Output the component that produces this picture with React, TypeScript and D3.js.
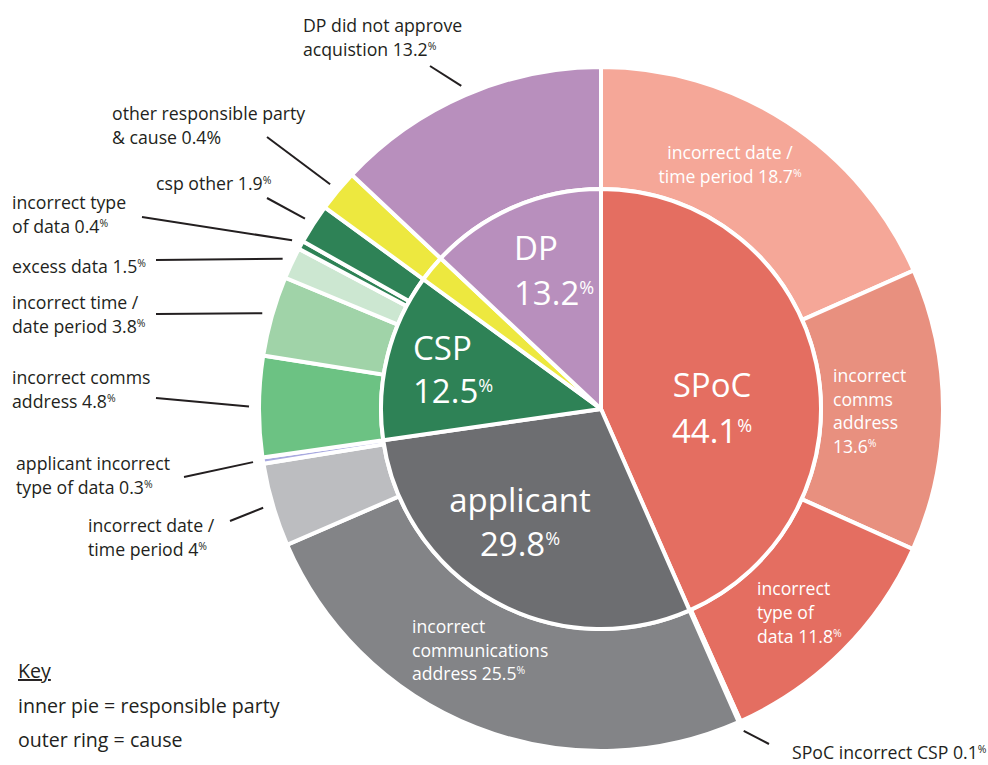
import React from "react";
import * as d3 from "d3";

// ---------- data ----------
const parties = ["SPoC", "applicant", "CSP", "other", "DP"];
const partyShares = [44.1, 29.8, 12.5, 0.4, 13.2];

const causeParty = [
  "SPoC", "SPoC", "SPoC", "SPoC",
  "applicant", "applicant", "applicant",
  "CSP", "CSP", "CSP", "CSP", "CSP",
  "other",
  "DP",
];
const causeNames = [
  "incorrect date / time period",
  "incorrect comms address",
  "incorrect type of data",
  "SPoC incorrect CSP",
  "incorrect communications address",
  "incorrect date / time period",
  "applicant incorrect type of data",
  "incorrect comms address",
  "incorrect time / date period",
  "excess data",
  "incorrect type of data",
  "csp other",
  "other responsible party & cause",
  "DP did not approve acquistion",
];
const causeShares = [18.7, 13.6, 11.8, 0.1, 25.5, 4, 0.3, 4.8, 3.8, 1.5, 0.4, 1.9, 0.4, 13.2];

const keyTitle = "Key";
const keyLines = ["inner pie = responsible party", "outer ring = cause"];

// smallest share a party wedge is drawn with, so the tiny one stays visible
const MIN_DISPLAY_SHARE = 2;

// ---------- styles ----------
const partyColors = ["#E46E61", "#6D6E71", "#2E8256", "#EDE83F", "#B88FBD"];
const causeColors = [
  "#F5A798", "#E8907F", "#E46E61", "#E46E61",
  "#838487", "#BCBDC0", "#A9AAE0",
  "#6CC283", "#A0D3A8", "#CCE7D1", "#2E8256", "#2E8256",
  "#EDE83F",
  "#B88FBD",
];
const FONT = "'Open Sans', sans-serif";
const DARK = "#231F20";
const OUT_SIZE = 17.7;
const RING_SIZE = 17.6;
const KEY_SIZE = 19.6;

// ---------- layout ----------
const W = 988, H = 765;
const CX = 601, CY = 409;
const R_PIE = 220, R_OUT = 342, LEADER_R = 352;

type Lbl = {
  i: number; lines: string[]; x: number; y: number; lh: number;
  anchor?: "start" | "middle"; end?: [number, number]; fullPct?: boolean;
};

// outside dark labels with leader lines ({v} = value)
const outerLabels: Lbl[] = [
  { i: 13, lines: ["DP did not approve", "acquistion {v}"], x: 303, y: 32, lh: 23.5, end: [430, 66] },
  { i: 12, lines: ["other responsible party", "& cause {v}"], x: 112, y: 120, lh: 23.5, end: [267, 137], fullPct: true },
  { i: 11, lines: ["csp other {v}"], x: 156, y: 190, lh: 23.5, end: [267, 198] },
  { i: 10, lines: ["incorrect type", "of data {v}"], x: 12, y: 209, lh: 23.5, end: [142, 217] },
  { i: 9, lines: ["excess data {v}"], x: 12, y: 273, lh: 23.5, end: [156, 260] },
  { i: 8, lines: ["incorrect time /", "date period {v}"], x: 12, y: 309, lh: 23.5, end: [156, 314] },
  { i: 7, lines: ["incorrect comms", "address {v}"], x: 12, y: 384, lh: 23.5, end: [156, 398] },
  { i: 6, lines: ["applicant incorrect", "type of data {v}"], x: 16, y: 470, lh: 23.5, end: [184, 477] },
  { i: 5, lines: ["incorrect date /", "time period {v}"], x: 88, y: 532, lh: 23.5, end: [230, 521] },
  { i: 3, lines: ["SPoC incorrect CSP {v}"], x: 792, y: 759, lh: 23.5, end: [769, 744] },
];

// white labels inside the outer ring
const ringLabels: Lbl[] = [
  { i: 0, lines: ["incorrect date /", "time period {v}"], x: 730, y: 159, lh: 24, anchor: "middle" },
  { i: 1, lines: ["incorrect", "comms", "address", "{v}"], x: 833, y: 382, lh: 23.7 },
  { i: 2, lines: ["incorrect", "type of", "data {v}"], x: 757, y: 595, lh: 24 },
  { i: 4, lines: ["incorrect", "communications", "address {v}"], x: 412, y: 633, lh: 23.5 },
];

// big white labels inside the pie
const pieLabels = [
  { i: 0, x: 712, y: 397, lh: 46, anchor: "middle" as const },
  { i: 1, x: 520, y: 512, lh: 44, anchor: "middle" as const },
  { i: 2, x: 413, y: 360, lh: 43, anchor: "start" as const },
  { i: 4, x: 514, y: 260, lh: 45, anchor: "start" as const },
];

function PctLine(props: {
  text: string; x: number; y: number; size: number; fill: string;
  anchor?: string; supSize?: number; supDy?: number; fullPct?: boolean;
}) {
  const { text, x, y, size, fill, anchor = "start", supSize, supDy, fullPct } = props;
  const hasPct = text.endsWith("%");
  const body = hasPct ? text.slice(0, -1) : text;
  return (
    <text x={x} y={y} fontSize={size} fill={fill} textAnchor={anchor} fontFamily={FONT}>
      {body}
      {hasPct && (fullPct ? <tspan>%</tspan> :
        <tspan fontSize={supSize} dy={supDy}>%</tspan>)}
    </text>
  );
}

export default function App() {
  const partyPie = d3.pie<number>().sort(null).value((v) => Math.max(v, MIN_DISPLAY_SHARE));
  const partyArcs = partyPie(partyShares);

  const causeArcs: d3.PieArcDatum<number>[] = new Array(causeShares.length);
  parties.forEach((p, pi) => {
    const idx = causeParty.map((cp, j) => (cp === p ? j : -1)).filter((j) => j >= 0);
    const sub = d3
      .pie<number>()
      .sort(null)
      .value((v) => v)
      .startAngle(partyArcs[pi].startAngle)
      .endAngle(partyArcs[pi].endAngle)(idx.map((j) => causeShares[j]));
    idx.forEach((j, k) => (causeArcs[j] = sub[k]));
  });

  const innerArc = d3.arc<d3.PieArcDatum<number>>().innerRadius(0).outerRadius(R_PIE);
  const ringArc = d3.arc<d3.PieArcDatum<number>>().innerRadius(R_PIE).outerRadius(R_OUT);

  const fill = (t: string, v: number) => t.replace("{v}", `${v}%`);

  return (
    <svg width={W} height={H} style={{ position: "absolute", left: 0, top: 0, background: "#fff" }}>
      <g transform={`translate(${CX},${CY})`}>
        {causeArcs.map((a, j) => (
          <path key={"c" + j} d={ringArc(a) || ""} fill={causeColors[j]} stroke="#fff" strokeWidth={4} strokeLinejoin="miter" />
        ))}
        {partyArcs.map((a, i) => (
          <path key={"p" + i} d={innerArc(a) || ""} fill={partyColors[i]} stroke="#fff" strokeWidth={4} strokeLinejoin="round" />
        ))}
      </g>

      {/* leader lines */}
      {outerLabels.map((l) => {
        const a = causeArcs[l.i];
        const mid = (a.startAngle + a.endAngle) / 2;
        const x1 = CX + LEADER_R * Math.sin(mid);
        const y1 = CY - LEADER_R * Math.cos(mid);
        return <line key={"l" + l.i} x1={x1} y1={y1} x2={l.end![0]} y2={l.end![1]} stroke={DARK} strokeWidth={2} />;
      })}

      {/* outside labels */}
      {outerLabels.map((l) =>
        l.lines.map((t, k) => (
          <PctLine key={`o${l.i}-${k}`} text={fill(t, causeShares[l.i])} x={l.x} y={l.y + k * l.lh}
            size={OUT_SIZE} fill={DARK} supSize={10.5} supDy={-6} fullPct={l.fullPct} />
        ))
      )}

      {/* ring labels */}
      {ringLabels.map((l) =>
        l.lines.map((t, k) => (
          <PctLine key={`r${l.i}-${k}`} text={fill(t, causeShares[l.i])} x={l.x} y={l.y + k * l.lh}
            size={RING_SIZE} fill="#fff" anchor={l.anchor} supSize={10.5} supDy={-6} />
        ))
      )}

      {/* pie labels */}
      {pieLabels.map((l) => (
        <g key={"pl" + l.i}>
          <PctLine text={parties[l.i]} x={l.x} y={l.y} size={33} fill="#fff" anchor={l.anchor} />
          <PctLine text={`${partyShares[l.i]}%`} x={l.x} y={l.y + l.lh} size={33} fill="#fff"
            anchor={l.anchor} supSize={18} supDy={-11} />
        </g>
      ))}

      {/* key */}
      <text x={18} y={678} fontSize={KEY_SIZE} fill={DARK} fontFamily={FONT} textDecoration="underline">{keyTitle}</text>
      {keyLines.map((t, k) => (
        <text key={"k" + k} x={18} y={713 + k * 33.5} fontSize={KEY_SIZE} fill={DARK} fontFamily={FONT}>{t}</text>
      ))}
      <desc>{causeNames.join("; ")}</desc>
    </svg>
  );
}
